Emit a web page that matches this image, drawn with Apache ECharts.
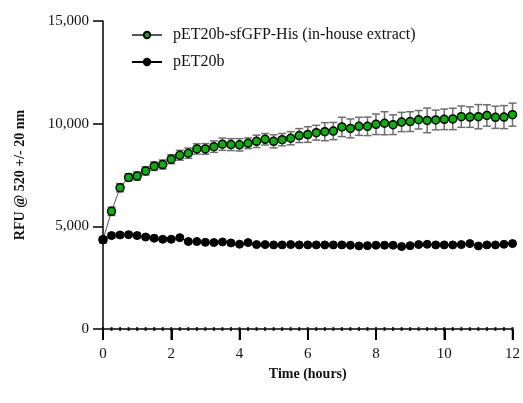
<!DOCTYPE html>
<html>
<head>
<meta charset="utf-8">
<script src="https://cdn.jsdelivr.net/npm/echarts@6/dist/echarts.min.js"></script>
<style>html,body{margin:0;padding:0;background:#fff;}#c{width:523px;height:403px;}</style>
</head>
<body>
<div id="c"></div>
<script>
var timeHours = [0,0.25,0.5,0.75,1,1.25,1.5,1.75,2,2.25,2.5,2.75,3,3.25,3.5,3.75,4,4.25,4.5,4.75,5,5.25,5.5,5.75,6,6.25,6.5,6.75,7,7.25,7.5,7.75,8,8.25,8.5,8.75,9,9.25,9.5,9.75,10,10.25,10.5,10.75,11,11.25,11.5,11.75,12];
var sfgfpValues = [4350,5730,6880,7380,7450,7700,7930,8010,8270,8460,8560,8770,8770,8880,9000,8980,8970,9045,9140,9240,9140,9220,9290,9420,9470,9560,9610,9640,9840,9770,9870,9870,9970,10020,9950,10080,10100,10190,10160,10180,10210,10230,10340,10320,10340,10400,10310,10320,10440];
var sfgfpErr = [150,200,200,180,200,200,210,220,220,240,250,250,260,280,300,290,300,260,300,280,320,300,320,340,380,360,440,420,470,460,440,450,500,560,480,470,480,450,600,480,500,520,520,500,590,520,540,560,560];
var pet20bValues = [4350,4550,4580,4595,4550,4480,4420,4370,4370,4450,4260,4260,4220,4210,4240,4190,4130,4210,4110,4110,4095,4095,4110,4095,4095,4095,4095,4095,4095,4080,4045,4060,4080,4080,4080,4015,4060,4110,4125,4095,4095,4095,4110,4160,4045,4095,4095,4125,4160];
var pet20bErr = [120,120,110,100,100,90,90,80,80,80,70,70,60,60,60,60,60,60,50,50,50,50,50,50,50,50,50,50,50,50,50,50,50,50,50,50,50,50,50,50,50,50,50,50,50,50,50,50,50];
var blankValues = [0,0,0,0,0,0,0,0,0,0,0,0,0,0,0,0,0,0,0,0,0,0,0,0,0,0,0,0,0,0,0,0,0,0,0,0,0,0,0,0,0,0,0,0,0,0,0,0,0];
var seriesNames = ['pET20b-sfGFP-His (in-house extract)', 'pET20b'];
var xTicks = [0,2,4,6,8,10,12];
var yTicks = [0,5000,10000,15000];

var FONT = 'Liberation Serif';

function pairs(vals){ return timeHours.map(function(t,i){ return [t, vals[i]]; }); }
function errData(vals, errs){ return timeHours.map(function(t,i){ return [t, vals[i]-errs[i], vals[i]+errs[i]]; }); }

function errRender(params, api){
  var x = api.value(0);
  var lo = api.coord([x, api.value(1)]);
  var hi = api.coord([x, api.value(2)]);
  var cap = 4;
  var st = {stroke: '#6e6e6e', lineWidth: 1.5};
  return {type: 'group', children: [
    {type: 'line', shape: {x1: lo[0], y1: lo[1], x2: hi[0], y2: hi[1]}, style: st},
    {type: 'line', shape: {x1: lo[0]-cap, y1: lo[1], x2: lo[0]+cap, y2: lo[1]}, style: st},
    {type: 'line', shape: {x1: hi[0]-cap, y1: hi[1], x2: hi[0]+cap, y2: hi[1]}, style: st}
  ]};
}
function xTickRender(params, api){
  var p = api.coord([api.value(0), api.value(1)]);
  return {type: 'line', shape: {x1: p[0], y1: p[1], x2: p[0], y2: p[1] + 11},
    style: {stroke: '#000', lineWidth: 1.5}};
}

var chart = echarts.init(document.getElementById('c'), null, {renderer: 'canvas'});
chart.setOption({
  animation: false,
  textStyle: {fontFamily: FONT},
  grid: {left: 103, right: 6, top: 21, bottom: 74},
  legend: {
    orient: 'vertical', left: 126, top: 22, itemWidth: 30, itemHeight: 8, itemGap: 11,
    data: seriesNames,
    textStyle: {fontFamily: FONT, fontSize: 16, color: '#111', padding: [0,0,0,6]}
  },
  xAxis: {
    type: 'value', min: 0, max: 12, interval: 2,
    name: 'Time (hours)', nameLocation: 'middle', nameGap: 37,
    nameTextStyle: {fontFamily: FONT, fontSize: 14, fontWeight: 'bold', color: '#111'},
    axisLine: {show: true, lineStyle: {color: '#000', width: 1.5}},
    axisTick: {show: true, length: 11, lineStyle: {color: '#000', width: 2}},
    axisLabel: {margin: 18, fontFamily: FONT, fontSize: 15, color: '#111'},
    splitLine: {show: false}
  },
  yAxis: {
    type: 'value', min: 0, max: 15000, interval: 5000,
    name: 'RFU @ 520 +/- 20 nm', nameLocation: 'middle', nameGap: 76,
    nameTextStyle: {fontFamily: FONT, fontSize: 14, fontWeight: 'bold', color: '#111'},
    axisLine: {show: true, lineStyle: {color: '#000', width: 1.5}},
    axisTick: {show: true, length: 10, lineStyle: {color: '#000', width: 1.5}},
    axisLabel: {margin: 14, fontFamily: FONT, fontSize: 15, color: '#111'},
    splitLine: {show: false}
  },
  series: [
    {type: 'custom', name: 'err1', data: errData(sfgfpValues, sfgfpErr), renderItem: errRender, z: 1, encode: {x: 0, y: [1,2]}},
    {type: 'custom', name: 'err2', data: errData(pet20bValues, pet20bErr), renderItem: errRender, z: 1, encode: {x: 0, y: [1,2]}},
    {type: 'line', name: seriesNames[0], data: pairs(sfgfpValues), z: 3,
      symbol: 'circle', symbolSize: 8, showAllSymbol: true,
      lineStyle: {color: '#555', width: 1},
      itemStyle: {color: '#00b400', borderColor: '#000', borderWidth: 1.5}},
    {type: 'line', name: seriesNames[1], data: pairs(pet20bValues), z: 4,
      symbol: 'circle', symbolSize: 8, showAllSymbol: true,
      lineStyle: {color: '#000', width: 1},
      itemStyle: {color: '#000', borderColor: '#000', borderWidth: 1}},
    {type: 'scatter', name: 'blank', data: pairs(blankValues), z: 5,
      symbol: 'rect', symbolSize: [2, 4], itemStyle: {color: '#000'}},
    {type: 'custom', name: 'xticks', data: xTicks.map(function(v){ return [v, 0]; }), renderItem: xTickRender,
      clip: false, z: 10, encode: {x: 0, y: 1}}
  ]
});
</script>
</body>
</html>
